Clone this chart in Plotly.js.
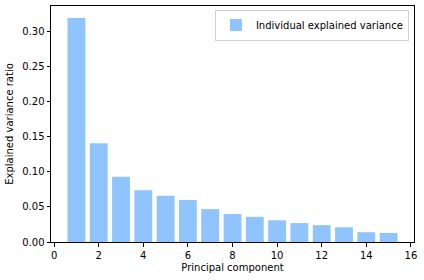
<!DOCTYPE html>
<html>
<head>
<meta charset="utf-8">
<script src="https://cdn.plot.ly/plotly-3.0.1.min.js"></script>
<style>html,body{margin:0;padding:0;background:#fff;}#chart{width:424px;height:280px;}</style>
</head>
<body>
<div id="chart"></div>
<script>
const components = [1,2,3,4,5,6,7,8,9,10,11,12,13,14,15];
const varianceRatio = [0.320,0.141,0.093,0.074,0.066,0.060,0.047,0.040,0.036,0.031,0.027,0.024,0.021,0.014,0.013];
const seriesName = 'Individual explained variance';
const yTicks = [0,0.05,0.10,0.15,0.20,0.25,0.30];
const xTicks = [0,2,4,6,8,10,12,14,16];

const font = {family: 'DejaVu Sans, sans-serif', size: 10, color: '#000'};
Plotly.newPlot('chart', [{
  type: 'bar', x: components, y: varianceRatio, name: seriesName,
  width: 0.8, marker: {color: '#8fc4fe', line: {width: 0}}, showlegend: true
}], {
  width: 424, height: 280,
  margin: {l: 51, r: 10, t: 6, b: 38},
  paper_bgcolor: '#fff', plot_bgcolor: '#fff',
  font: font,
  xaxis: {range: [-0.14, 16.14], tickvals: xTicks, ticktext: xTicks.map(String),
    showgrid: false, zeroline: false, showline: true, linecolor: '#000', linewidth: 1, mirror: true,
    ticks: 'outside', ticklen: 3.5, tickcolor: '#000', tickfont: font,
    title: {text: 'Principal component', font: font, standoff: 4}},
  yaxis: {range: [0, 0.337], tickvals: yTicks, ticktext: yTicks.map(v => v.toFixed(2)),
    showgrid: false, zeroline: false, showline: true, linecolor: '#000', linewidth: 1, mirror: true,
    ticks: 'outside', ticklen: 3.5, tickcolor: '#000', tickfont: font,
    title: {text: 'Explained variance ratio', font: font, standoff: 6}},
  legend: {x: 0.986, y: 0.985, xanchor: 'right', yanchor: 'top', bgcolor: '#fff',
    bordercolor: '#d0d0d0', borderwidth: 1, font: font, itemwidth: 30},
  bargap: 0.2
}, {displayModeBar: false, staticPlot: true});
</script>
</body>
</html>
